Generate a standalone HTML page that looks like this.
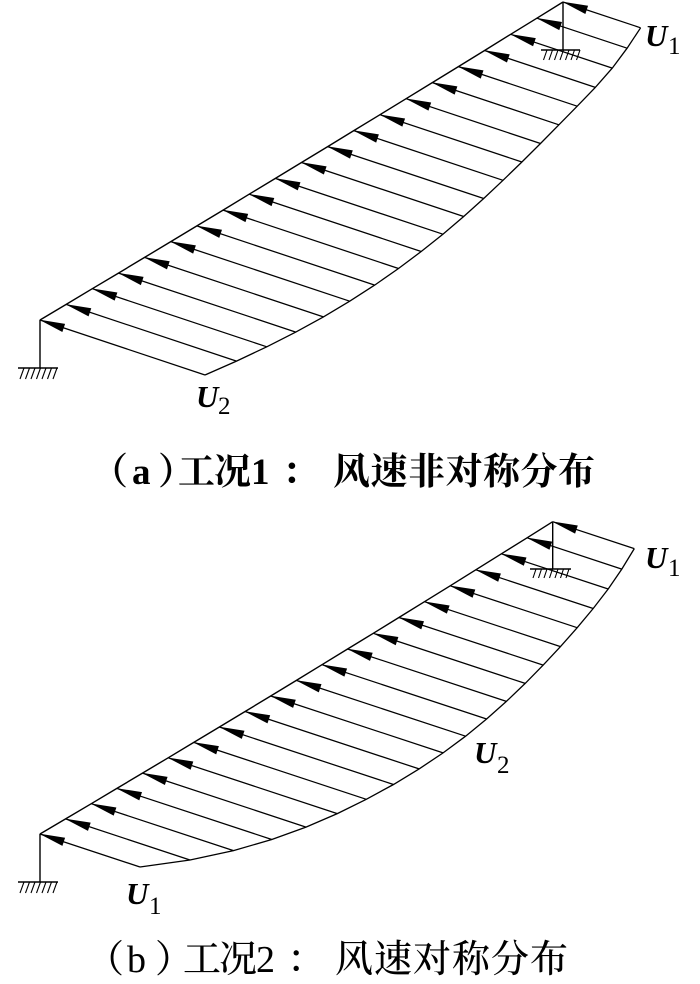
<!DOCTYPE html>
<html>
<head>
<meta charset="utf-8">
<style>
html,body{margin:0;padding:0;background:#fff;}
svg{display:block;}
.u{font-family:"Liberation Serif",serif;font-style:italic;font-weight:bold;font-size:31px;fill:#000;}
.s{font-family:"Liberation Serif",serif;font-size:25px;fill:#000;}
.ca{font-family:"Liberation Serif","Noto Serif CJK SC",serif;font-weight:bold;font-size:37px;fill:#000;}
.cb{font-family:"Liberation Serif","Noto Serif CJK SC",serif;font-weight:500;font-size:38px;fill:#000;}
</style>
</head>
<body>
<svg width="700" height="984" viewBox="0 0 700 984" xmlns="http://www.w3.org/2000/svg">
<defs>
<marker id="ah" markerUnits="userSpaceOnUse" markerWidth="30" markerHeight="12" refX="25" refY="0" orient="auto" style="overflow:visible">
<path d="M0,-4.3 L26,0 L0,4.3 Z" fill="#000"/>
</marker>
</defs>

<!-- ===== (a) ===== -->
<g stroke="#000" fill="none" stroke-width="1.4">
<polyline points="40,320 66.2,304.4 92.3,288.7 118.5,273.1 144.6,257.4 170.8,241.6 196.9,225.9 223.1,210.1 249.2,194.2 275.4,178.4 301.5,162.5 327.7,146.6 353.8,130.6 380,114.7 406.1,98.7 432.3,82.6 458.4,66.6 484.6,50.5 510.7,34.3 536.9,18.2 563,2"/>
<polyline stroke-width="1.3" points="205,375 236.5,361.1 266.8,346.8 295.8,332.1 323.4,316.9 349.7,301.2 374.7,285.1 398.5,268.5 421.2,251.5 442.9,234.2 463.7,216.5 483.7,198.5 503,180.3 521.9,162 540.5,143.5 558.9,124.8 577.2,106.2 595.3,87.4 612.3,68.1 627.1,48.2 640.6,27.8"/>
<line x1="40" y1="320" x2="40" y2="368"/>
<line x1="18" y1="368" x2="58" y2="368"/>
<line x1="563" y1="2" x2="563" y2="50"/>
<line x1="541" y1="50" x2="580" y2="50"/>
</g>
<g stroke="#000" stroke-width="1.1">
<line x1="24" y1="368" x2="20" y2="379"/><line x1="29.5" y1="368" x2="25.5" y2="379"/><line x1="35" y1="368" x2="31" y2="379"/><line x1="40.5" y1="368" x2="36.5" y2="379"/><line x1="46" y1="368" x2="42" y2="379"/><line x1="51.5" y1="368" x2="47.5" y2="379"/><line x1="57" y1="368" x2="53" y2="379"/>
<line x1="547" y1="50" x2="543.5" y2="60"/><line x1="552.5" y1="50" x2="549" y2="60"/><line x1="558" y1="50" x2="554.5" y2="60"/><line x1="563.5" y1="50" x2="560" y2="60"/><line x1="569" y1="50" x2="565.5" y2="60"/><line x1="574.5" y1="50" x2="571" y2="60"/><line x1="580" y1="50" x2="576.5" y2="60"/>
</g>
<g stroke="#000" stroke-width="1.25" marker-end="url(#ah)">
<line x1="205" y1="375" x2="40" y2="320"/>
<line x1="236.5" y1="361.1" x2="66.2" y2="304.4"/>
<line x1="266.8" y1="346.8" x2="92.3" y2="288.7"/>
<line x1="295.8" y1="332.1" x2="118.5" y2="273.1"/>
<line x1="323.4" y1="316.9" x2="144.6" y2="257.4"/>
<line x1="349.7" y1="301.2" x2="170.8" y2="241.6"/>
<line x1="374.7" y1="285.1" x2="196.9" y2="225.9"/>
<line x1="398.5" y1="268.5" x2="223.1" y2="210.1"/>
<line x1="421.2" y1="251.5" x2="249.2" y2="194.2"/>
<line x1="442.9" y1="234.2" x2="275.4" y2="178.4"/>
<line x1="463.7" y1="216.5" x2="301.5" y2="162.5"/>
<line x1="483.7" y1="198.5" x2="327.7" y2="146.6"/>
<line x1="503" y1="180.3" x2="353.8" y2="130.6"/>
<line x1="521.9" y1="162" x2="380" y2="114.7"/>
<line x1="540.5" y1="143.5" x2="406.1" y2="98.7"/>
<line x1="558.9" y1="124.8" x2="432.3" y2="82.6"/>
<line x1="577.2" y1="106.2" x2="458.4" y2="66.6"/>
<line x1="595.3" y1="87.4" x2="484.6" y2="50.5"/>
<line x1="612.3" y1="68.1" x2="510.7" y2="34.3"/>
<line x1="627.1" y1="48.2" x2="536.9" y2="18.2"/>
<line x1="640.6" y1="27.8" x2="563" y2="2"/>
</g>
<text class="u" x="645" y="46">U</text><text class="s" x="668" y="54">1</text>
<text class="u" x="196" y="407">U</text><text class="s" x="218" y="414">2</text>
<text class="ca" y="484" x="91 132 158 178 214 251 282 333 370.5 408 445.5 483 520.5 558">（a）工况1：风速非对称分布</text>

<!-- ===== (b) ===== -->
<g stroke="#000" fill="none" stroke-width="1.4">
<polyline points="40,834 65.6,818.9 91.3,803.7 116.9,788.4 142.5,773.1 168.2,757.8 193.8,742.4 219.4,727 245.1,711.5 270.7,696 296.4,680.4 322,664.7 347.6,649 373.3,633.3 398.9,617.5 424.5,601.7 450.2,585.8 475.8,569.8 501.4,553.8 527.1,537.8 552.7,521.7"/>
<polyline stroke-width="1.3" points="140,867 190,860 233.5,850.6 271.8,839.5 306,827.1 337.3,813.6 366.3,799.3 393.5,784.5 419.1,768.9 443.1,752.9 465.6,736.2 486.6,719 506.4,701.4 525.2,683.4 543.2,665.1 560.5,646.6 577.2,627.7 593.2,608.5 608.2,589 621.8,569.1 634.3,548.6"/>
<line x1="40" y1="834" x2="40" y2="882"/>
<line x1="18" y1="882" x2="58" y2="882"/>
<line x1="552.7" y1="521.7" x2="552.7" y2="569"/>
<line x1="530" y1="569" x2="571" y2="569"/>
</g>
<g stroke="#000" stroke-width="1.1">
<line x1="24" y1="882" x2="20" y2="893"/><line x1="29.5" y1="882" x2="25.5" y2="893"/><line x1="35" y1="882" x2="31" y2="893"/><line x1="40.5" y1="882" x2="36.5" y2="893"/><line x1="46" y1="882" x2="42" y2="893"/><line x1="51.5" y1="882" x2="47.5" y2="893"/><line x1="57" y1="882" x2="53" y2="893"/>
<line x1="536" y1="569" x2="533" y2="578"/><line x1="541.5" y1="569" x2="538.5" y2="578"/><line x1="547" y1="569" x2="544" y2="578"/><line x1="552.5" y1="569" x2="549.5" y2="578"/><line x1="558" y1="569" x2="555" y2="578"/><line x1="563.5" y1="569" x2="560.5" y2="578"/><line x1="569" y1="569" x2="566" y2="578"/>
</g>
<g stroke="#000" stroke-width="1.25" marker-end="url(#ah)">
<line x1="140" y1="867" x2="40" y2="834"/>
<line x1="190" y1="860" x2="65.6" y2="818.9"/>
<line x1="233.5" y1="850.6" x2="91.3" y2="803.7"/>
<line x1="271.8" y1="839.5" x2="116.9" y2="788.4"/>
<line x1="306" y1="827.1" x2="142.5" y2="773.1"/>
<line x1="337.3" y1="813.6" x2="168.2" y2="757.8"/>
<line x1="366.3" y1="799.3" x2="193.8" y2="742.4"/>
<line x1="393.5" y1="784.5" x2="219.4" y2="727"/>
<line x1="419.1" y1="768.9" x2="245.1" y2="711.5"/>
<line x1="443.1" y1="752.9" x2="270.7" y2="696"/>
<line x1="465.6" y1="736.2" x2="296.4" y2="680.4"/>
<line x1="486.6" y1="719" x2="322" y2="664.7"/>
<line x1="506.4" y1="701.4" x2="347.6" y2="649"/>
<line x1="525.2" y1="683.4" x2="373.3" y2="633.3"/>
<line x1="543.2" y1="665.1" x2="398.9" y2="617.5"/>
<line x1="560.5" y1="646.6" x2="424.5" y2="601.7"/>
<line x1="577.2" y1="627.7" x2="450.2" y2="585.8"/>
<line x1="593.2" y1="608.5" x2="475.8" y2="569.8"/>
<line x1="608.2" y1="589" x2="501.4" y2="553.8"/>
<line x1="621.8" y1="569.1" x2="527.1" y2="537.8"/>
<line x1="634.3" y1="548.6" x2="552.7" y2="521.7"/>
</g>
<text class="u" x="645" y="568">U</text><text class="s" x="668" y="576">1</text>
<text class="u" x="474" y="763">U</text><text class="s" x="497" y="773">2</text>
<text class="u" x="126" y="904">U</text><text class="s" x="149" y="914">1</text>
<text class="cb" y="972" x="86 127 155 183 219 256 287 335 374 413 452 491 530">（b）工况2：风速对称分布</text>
</svg>
</body>
</html>
